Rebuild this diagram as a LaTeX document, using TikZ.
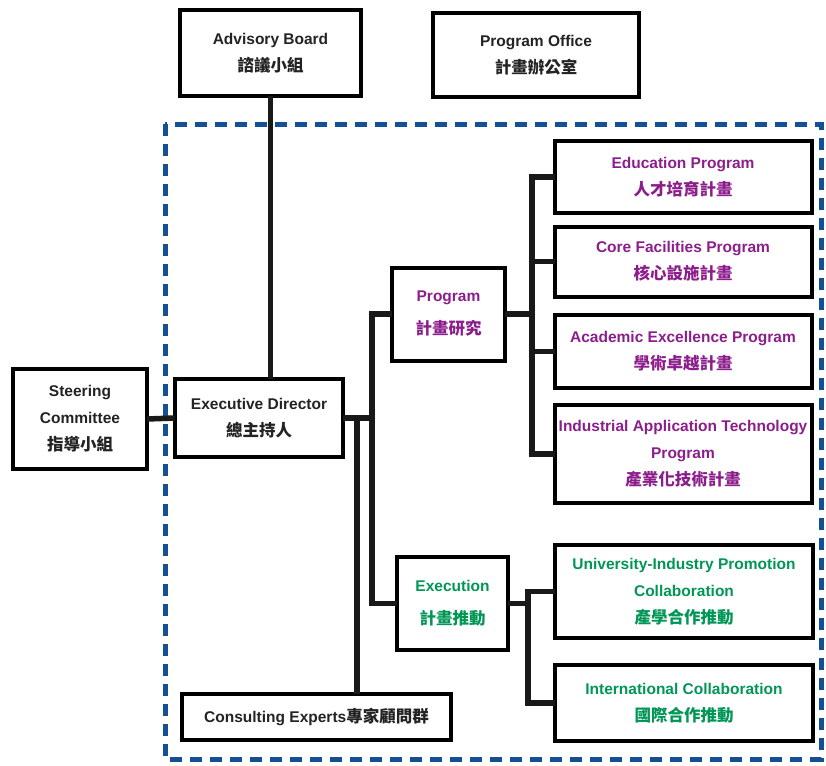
\documentclass[tikz,border=0pt]{standalone}
\usepackage{fontspec}
\setmainfont{Liberation Sans}
\newfontfamily\cjk{Noto Sans CJK TC}
\newcommand\zhtext[1]{{\cjk\fontsize{16.5}{27}\selectfont #1}}
\usepackage{tikz}
\usetikzlibrary{positioning,calc}
\definecolor{frameblue}{RGB}{20,80,150}
\definecolor{progpurple}{RGB}{140,30,140}
\definecolor{execgreen}{RGB}{0,150,85}
\definecolor{darktext}{RGB}{35,35,35}

\begin{document}
\begin{tikzpicture}[x=1pt,y=-1pt,outer sep=0pt,inner sep=2pt]
    \tikzset{unit/.style={align=center,shape=rectangle,draw=black,line width=4pt,fill=white,font=\bfseries\fontsize{15.5}{27}\selectfont,text=darktext}}
    \tikzset{link/.style={line width=5.5pt,draw=black!90}}
    \tikzset{purpleunit/.style={unit,text=progpurple}}
    \tikzset{greenunit/.style={unit,text=execgreen}}

    \useasboundingbox (0,0) rectangle (826,765);
    \draw[frameblue,line width=5pt,dash pattern=on 12pt off 8pt] (165,124) rectangle (821,759);

    \node [unit,minimum width=181,minimum height=86] (advisory) at (270.5,53) {Advisory Board\\\zhtext{諮議小組}};
    \node [unit,minimum width=206,minimum height=84] (office) at (536,55) {Program Office\\\zhtext{計畫辦公室}};
    \node [unit,minimum width=134,minimum height=100] (steering) at (80,419) {Steering\\Committee\\\zhtext{指導小組}};
    \node [unit,minimum width=168,minimum height=78] (director) at (259,418) {Executive Director\\\zhtext{總主持人}};
    \node [purpleunit,minimum width=113,minimum height=93] (program) at (448.5,314) {Program\\[6pt]\zhtext{計畫研究}};
    \node [greenunit,minimum width=111,minimum height=93] (execution) at (452.5,603.5) {Execution\\[6pt]\zhtext{計畫推動}};
    \node [purpleunit,minimum width=257,minimum height=72] (education) at (683,177) {Education Program\\\zhtext{人才培育計畫}};
    \node [purpleunit,minimum width=257,minimum height=70] (core) at (683,261.5) {Core Facilities Program\\\zhtext{核心設施計畫}};
    \node [purpleunit,minimum width=257,minimum height=73] (academic) at (683,351.5) {Academic Excellence Program\\\zhtext{學術卓越計畫}};
    \node [purpleunit,minimum width=257,minimum height=98] (industrial) at (683,454) {Industrial Application Technology\\Program\\\zhtext{產業化技術計畫}};
    \node [greenunit,minimum width=258,minimum height=93] (university) at (684,591.5) {University-Industry Promotion\\Collaboration\\\zhtext{產學合作推動}};
    \node [greenunit,minimum width=258,minimum height=76] (international) at (684,703) {International Collaboration\\\zhtext{國際合作推動}};
    \node [unit,minimum width=269,minimum height=46] (consulting) at (316.5,717) {Consulting Experts\zhtext{專家顧問群}};

    \coordinate (split) at (357,418);
    \coordinate (trunk) at (372,418);
    \coordinate (progbranch) at (532,314);
    \coordinate (execbranch) at (528,603.5);

    \draw[link] (advisory.south) -- (advisory.south |- director.north);
    \draw[link] (steering.east) -- (director.west);
    \draw[link] (director.east) -- (trunk);
    \draw[link] (split) -- (split |- consulting.north);
    \draw[link] (program.west) -| (trunk) |- (execution.west);
    \draw[link] (program.east) -- (progbranch);
    \draw[link] (education.west) -| (progbranch) |- (industrial.west);
    \draw[link] (core.west) -- (core.west -| progbranch);
    \draw[link] (academic.west) -- (academic.west -| progbranch);
    \draw[link] (execution.east) -- (execbranch);
    \draw[link] (university.west) -| (execbranch) |- (international.west);
\end{tikzpicture}
\end{document}
